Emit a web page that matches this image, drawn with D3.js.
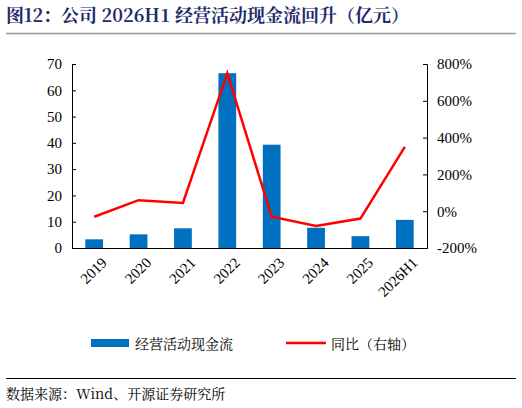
<!DOCTYPE html><html><head><meta charset="utf-8"><script src="https://cdn.jsdelivr.net/npm/d3@7"></script>
<style>body{margin:0;background:#fff}</style></head><body><svg id="c" width="522" height="408"></svg>
<script>
const categories=["2019","2020","2021","2022","2023","2024","2025","2026H1"];
const cashFlow=[3.3,5.2,7.5,66.5,39.3,7.7,4.5,10.7];
const yoy=[-30,60,45,750,-30,-80,-40,350];
const leftTicks=[0,10,20,30,40,50,60,70];
const rightTicks=[-200,0,200,400,600,800];
const svg=d3.select("#c");
const serif="'Liberation Serif','Noto Serif CJK SC','Noto Sans CJK SC',serif";
const cjk="'Noto Serif CJK SC','Noto Sans CJK SC',serif";
svg.append("text").attr("x",6).attr("y",22).attr("fill","#1f2a6b").attr("font-weight","bold").attr("font-size",18).attr("font-family",cjk).text("图12：公司 2026H1 经营活动现金流回升（亿元）");
svg.append("line").attr("x1",6).attr("x2",516).attr("y1",33.5).attr("y2",33.5).attr("stroke","#999").attr("stroke-width",1.5);
const x=d3.scaleBand().domain(categories).range([72,427]).paddingInner(0.6).paddingOuter(0.3);
const yL=d3.scaleLinear().domain([0,70]).range([248,64]);
const yR=d3.scaleLinear().domain([-200,800]).range([248,64]);
const ax=svg.append("g").attr("transform","translate(0,248)").call(d3.axisBottom(x).tickSize(0).tickSizeOuter(0));
ax.selectAll("text").attr("font-family",serif).attr("font-size",15).attr("fill","#000").attr("text-anchor","end").attr("transform","translate(4,6) rotate(-45)");
ax.select(".domain").attr("stroke","#000");
const al=svg.append("g").attr("transform","translate(72,0)").call(d3.axisLeft(yL).tickValues(leftTicks).tickSize(-4).tickSizeOuter(-4).tickPadding(10));
al.selectAll("text").attr("font-family",serif).attr("font-size",15).attr("fill","#000");
const ar=svg.append("g").attr("transform","translate(427,0)").call(d3.axisRight(yR).tickValues(rightTicks).tickSize(-4).tickSizeOuter(-4).tickPadding(10).tickFormat(d=>d+"%"));
ar.selectAll("text").attr("font-family",serif).attr("font-size",15).attr("fill","#000");
svg.selectAll(".bar").data(cashFlow).join("rect").attr("x",(d,i)=>x(categories[i])).attr("width",x.bandwidth()).attr("y",d=>yL(d)).attr("height",d=>248-yL(d)).attr("fill","#0070c0");
svg.append("path").datum(yoy).attr("fill","none").attr("stroke","#ff0000").attr("stroke-width",2.5)
 .attr("d",d3.line().x((d,i)=>x(categories[i])+x.bandwidth()/2).y(d=>yR(d)));
const lg=svg.append("g");
lg.append("rect").attr("x",91).attr("y",339).attr("width",38).attr("height",8).attr("fill","#0070c0");
lg.append("text").attr("x",135).attr("y",349).attr("font-size",14).attr("font-family",cjk).text("经营活动现金流");
lg.append("line").attr("x1",286).attr("x2",326).attr("y1",343).attr("y2",343).attr("stroke","#ff0000").attr("stroke-width",2.5);
lg.append("text").attr("x",331).attr("y",349).attr("font-size",14).attr("font-family",cjk).text("同比（右轴）");
svg.append("line").attr("x1",6).attr("x2",516).attr("y1",378.5).attr("y2",378.5).attr("stroke","#000");
svg.append("text").attr("x",6).attr("y",399).attr("font-size",14).attr("font-family",cjk).text("数据来源：Wind、开源证券研究所");
</script></body></html>
